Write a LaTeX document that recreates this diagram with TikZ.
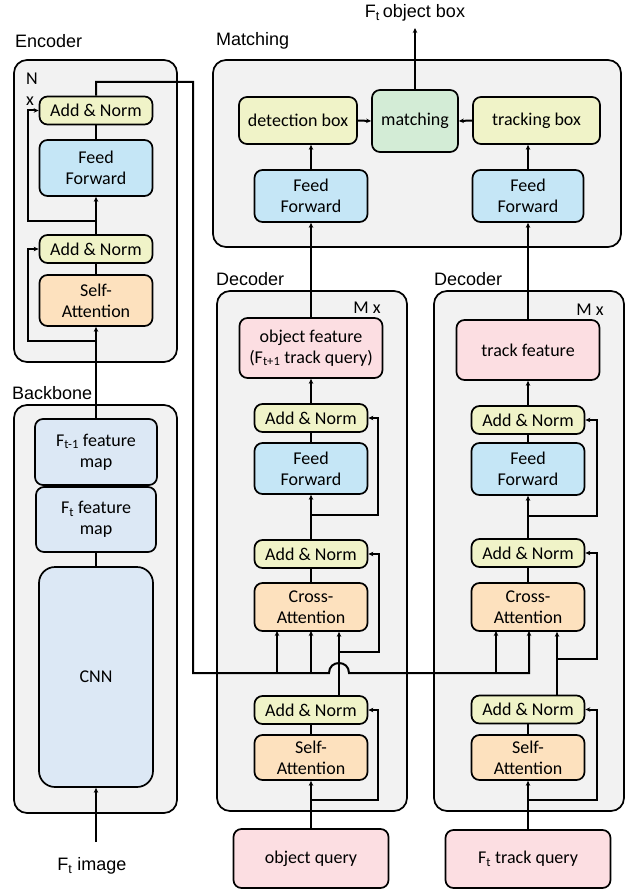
\documentclass[tikz,border=0pt]{standalone}
\usepackage{fontspec}
\setmainfont{Carlito}
\newfontfamily\lblfont{Liberation Sans}
\usetikzlibrary{arrows.meta}
\definecolor{cgray}{RGB}{242,242,242}
\definecolor{cyel}{RGB}{240,243,200}
\definecolor{cblue}{RGB}{197,230,246}
\definecolor{corange}{RGB}{253,225,190}
\definecolor{cpink}{RGB}{252,222,226}
\definecolor{cgreen}{RGB}{211,236,214}
\definecolor{cbb}{RGB}{220,232,245}
\begin{document}
\begin{tikzpicture}[x=1pt,y=-1pt,
  every node/.style={font=\fontsize{18}{21}\selectfont},
  outerbox/.style={draw=black,line width=1.7pt,fill=cgray,rounded corners=13pt,inner sep=0pt},
  blk/.style={draw=black,line width=1.7pt,rounded corners=8pt,align=center,inner sep=0pt},
  an/.style={blk,fill=cyel,minimum width=113pt,minimum height=28pt},
  ffb/.style={blk,fill=cblue,minimum width=113pt,minimum height=52pt},
  att/.style={blk,fill=corange,minimum width=113pt,minimum height=48pt},
  pinkb/.style={blk,fill=cpink},
  bbb/.style={blk,fill=cbb},
  lbl/.style={font=\lblfont\fontsize{18}{21}\selectfont,inner sep=0pt},
  plain/.style={inner sep=0pt},
  conn/.style={line width=2pt},
  arr/.style={conn,-{Stealth[length=5pt,width=4.5pt]}}
]
\useasboundingbox (0,0) rectangle (627,890);

% ---------- outer containers ----------
\node[outerbox,minimum width=163pt,minimum height=302pt] (enc) at (95.5,211) {};
\node[outerbox,minimum width=163pt,minimum height=408pt] (bb) at (95.5,609) {};
\node[outerbox,minimum width=408pt,minimum height=187pt] (mt) at (417,153.5) {};
\node[outerbox,minimum width=190pt,minimum height=520pt] (ld) at (312,551) {};
\node[outerbox,minimum width=190pt,minimum height=520pt] (rd) at (529,551) {};

% ---------- labels ----------
\node[lbl,anchor=west] (lenc) at (15,41) {Encoder};
\node[lbl,anchor=west] (lbb) at (12,393) {Backbone};
\node[lbl,anchor=west] (lmt) at (216,41) {Matching};
\node[lbl,anchor=west] (lld) at (216,279) {Decoder};
\node[lbl,anchor=west] (lrd) at (434,279) {Decoder};
\node[plain] (nN) at (32,79) {N};
\node[plain] (nx) at (30,101) {x};
\node[plain] (lmx) at (367,308) {M x};
\node[plain] (rmx) at (590,310) {M x};
\node[lbl] (outtxt) at (415,13) {F\textsubscript{t}\,object box};
\node[lbl] (intxt) at (92,866) {F\textsubscript{t} image};
\coordinate (outpt) at (415,28);
\coordinate (inpt) at (96,842);

% ---------- encoder ----------
\node[an] (eAN2) at (96,110.5) {Add \& Norm};
\node[ffb,minimum height=56pt] (eFF) at (96,168) {Feed\\Forward};
\node[an] (eAN1) at (96,249) {Add \& Norm};
\node[att,minimum height=51pt] (eSA) at (96,300.5) {Self-\\Attention};

% ---------- backbone ----------
\node[bbb,minimum width=122pt,minimum height=66pt] (fm1) at (96,452) {F\textsubscript{t-1} feature\\map};
\node[bbb,minimum width=120pt,minimum height=65pt] (fm0) at (96,519.5) {F\textsubscript{t} feature\\map};
\node[bbb,minimum width=114pt,minimum height=220pt,rounded corners=16pt] (cnn) at (96,677) {CNN};

% ---------- matching ----------
\node[blk,fill=cyel,minimum width=118pt,minimum height=47pt] (det) at (298,120.5) {detection box};
\node[blk,fill=cgreen,minimum width=86pt,minimum height=62pt] (mat) at (415,121) {matching};
\node[blk,fill=cyel,minimum width=127pt,minimum height=47pt] (trk) at (536.5,120.5) {tracking box};
\node[ffb] (mFF1) at (311,196) {Feed\\Forward};
\node[ffb,minimum width=111pt] (mFF2) at (528,196) {Feed\\Forward};

% ---------- left decoder ----------
\node[pinkb,minimum width=143pt,minimum height=60pt] (of) at (311,348) {object feature\\(F\textsubscript{t+1} track query)};
\node[an] (lAN3) at (311,418) {Add \& Norm};
\node[ffb,minimum height=51pt] (lFF) at (311,468.5) {Feed\\Forward};
\node[an] (lAN2) at (311,554) {Add \& Norm};
\node[att] (lCA) at (311,607) {Cross-\\Attention};
\node[an] (lAN1) at (311,710) {Add \& Norm};
\node[att,minimum height=45pt] (lSA) at (311,757.5) {Self-\\Attention};
\node[pinkb,minimum width=155pt,minimum height=59pt] (oq) at (311,858.5) {object query};

% ---------- right decoder ----------
\node[pinkb,minimum width=143pt,minimum height=60pt] (tf) at (528,350) {track feature};
\node[an] (rAN3) at (528,420) {Add \& Norm};
\node[ffb] (rFF) at (528,469) {Feed\\Forward};
\node[an] (rAN2) at (528,553) {Add \& Norm};
\node[att] (rCA) at (528,607) {Cross-\\Attention};
\node[an] (rAN1) at (528,709.5) {Add \& Norm};
\node[att,minimum height=45pt] (rSA) at (528,757.5) {Self-\\Attention};
\node[pinkb,minimum width=165pt,minimum height=58pt] (tq) at (528,859) {F\textsubscript{t} track query};

% ---------- backbone / encoder connectors ----------
\draw[arr] (inpt) -- (cnn.south);
\draw[conn] (fm0.south) -- (cnn.north);
\draw[arr] (fm1.north) -- (eSA.south);
\draw[arr] (96,341) -- (28,341) |- (eAN1.west);
\draw[conn] (eSA.north) -- (eAN1.south);
\draw[arr] (eAN1.north) -- (eFF.south);
\draw[arr] (96,221) -- (28,221) |- (eAN2.west);
\draw[conn] (eFF.north) -- (eAN2.south);

% memory line from encoder to both cross-attentions (with hop)
\draw[arr] (eAN2.north) -- (96,82) -| (193,673) -- (329,673)
  .. controls (329,659.7) and (349,659.7) .. (349,673) -- (529,673) -- (529,631);
\draw[arr] (277,673) -- (277,631);
\draw[arr] (311,673) -- (311,631);
\draw[arr] (496,673) -- (496,631);

% ---------- left decoder connectors ----------
\draw[arr] (oq.north) -- (lSA.south);
\draw[arr] (311,800) -- (378,800) |- (lAN1.east);
\draw[conn] (lSA.north) -- (lAN1.south);
\draw[arr] ([xshift=28pt]lAN1.north) -- ([xshift=28pt]lCA.south);
\draw[arr] (339,652) -- (379,652) |- (lAN2.east);
\draw[conn] (lCA.north) -- (lAN2.south);
\draw[arr] (lAN2.north) -- (lFF.south);
\draw[arr] (311,515) -- (378,515) |- (lAN3.east);
\draw[conn] (lFF.north) -- (lAN3.south);
\draw[arr] (lAN3.north) -- (of.south);
\draw[arr] (of.north) -- (mFF1.south);

% ---------- right decoder connectors ----------
\draw[arr] (tq.north) -- (rSA.south);
\draw[arr] (528,800) -- (597,800) |- (rAN1.east);
\draw[conn] (rSA.north) -- (rAN1.south);
\draw[arr] ([xshift=29pt]rAN1.north) -- ([xshift=29pt]rCA.south);
\draw[arr] (557,659) -- (597,659) |- (rAN2.east);
\draw[conn] (rCA.north) -- (rAN2.south);
\draw[arr] (rAN2.north) -- (rFF.south);
\draw[arr] (528,516) -- (597,516) |- (rAN3.east);
\draw[conn] (rFF.north) -- (rAN3.south);
\draw[arr] (rAN3.north) -- (tf.south);
\draw[arr] (tf.north) -- (mFF2.south);

% ---------- matching connectors ----------
\draw[arr] (mFF1.north) -- (det.south -| mFF1.north);
\draw[arr] (mFF2.north) -- (trk.south -| mFF2.north);
\draw[arr] (det.east) -- (mat.west);
\draw[arr] (trk.west) -- (mat.east);
\draw[arr] (mat.north) -- (outpt);
\end{tikzpicture}
\end{document}
